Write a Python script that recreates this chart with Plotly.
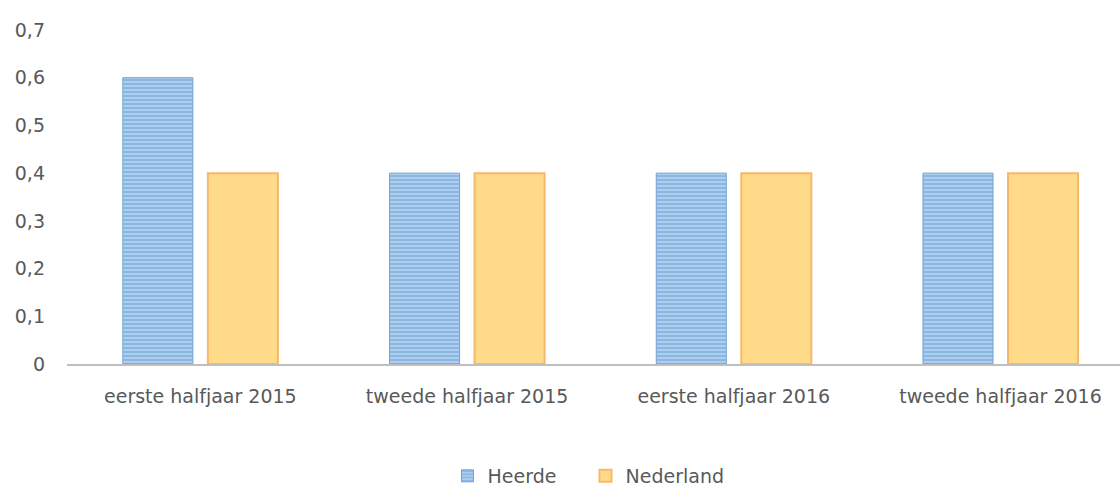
import plotly.graph_objects as go

categories = ["eerste halfjaar 2015", "tweede halfjaar 2015", "eerste halfjaar 2016", "tweede halfjaar 2016"]
heerde = [0.6, 0.4, 0.4, 0.4]
nederland = [0.4, 0.4, 0.4, 0.4]
y_ticks = [0, 0.1, 0.2, 0.3, 0.4, 0.5, 0.6, 0.7]
y_tick_labels = ["0", "0,1", "0,2", "0,3", "0,4", "0,5", "0,6", "0,7"]

FONT = "DejaVu Sans"
GRAY = "#595959"

fig = go.Figure()
fig.add_trace(go.Bar(
    name="Heerde", x=categories, y=heerde,
    marker=dict(color="#A9CBEB", line=dict(color="#6FA3D8", width=1),
                pattern=dict(shape="-", fgcolor="#5B9BD5", bgcolor="#B8D4EF",
                             size=4, solidity=0.6, fillmode="overlay")),
))
fig.add_trace(go.Bar(
    name="Nederland", x=categories, y=nederland,
    marker=dict(color="#FFDA88", line=dict(color="#F6B86A", width=2)),
))

fig.update_layout(
    width=1120, height=487,
    margin=dict(l=67, r=0, t=30, b=123, autoexpand=False),
    paper_bgcolor="white", plot_bgcolor="white",
    barmode="group", bargap=0.3625, bargroupgap=0.176,
    font=dict(family=FONT, size=19, color=GRAY),
    showlegend=True,
    legend=dict(orientation="h", x=0.4924, xanchor="center",
                yref="container", y=0.0226, yanchor="middle",
                font=dict(family=FONT, size=19, color=GRAY), itemwidth=30,
                entrywidth=93, entrywidthmode="pixels"),
)
fig.update_xaxes(type="category", range=[-0.5, 3.448], showline=True, linecolor="#BFBFBF",
                 linewidth=2, showgrid=False, ticks="", ticklabelstandoff=14,
                 tickfont=dict(family=FONT, size=19, color=GRAY))
fig.update_yaxes(range=[0, 0.7], tickvals=y_ticks, ticktext=y_tick_labels, showgrid=False,
                 zeroline=False, showline=False, ticks="", ticklabelstandoff=21,
                 tickfont=dict(family=FONT, size=19, color=GRAY))

fig.write_html("out.html", config={"displayModeBar": False},
               post_script="document.body.style.margin='0';document.body.style.overflow='hidden';")
